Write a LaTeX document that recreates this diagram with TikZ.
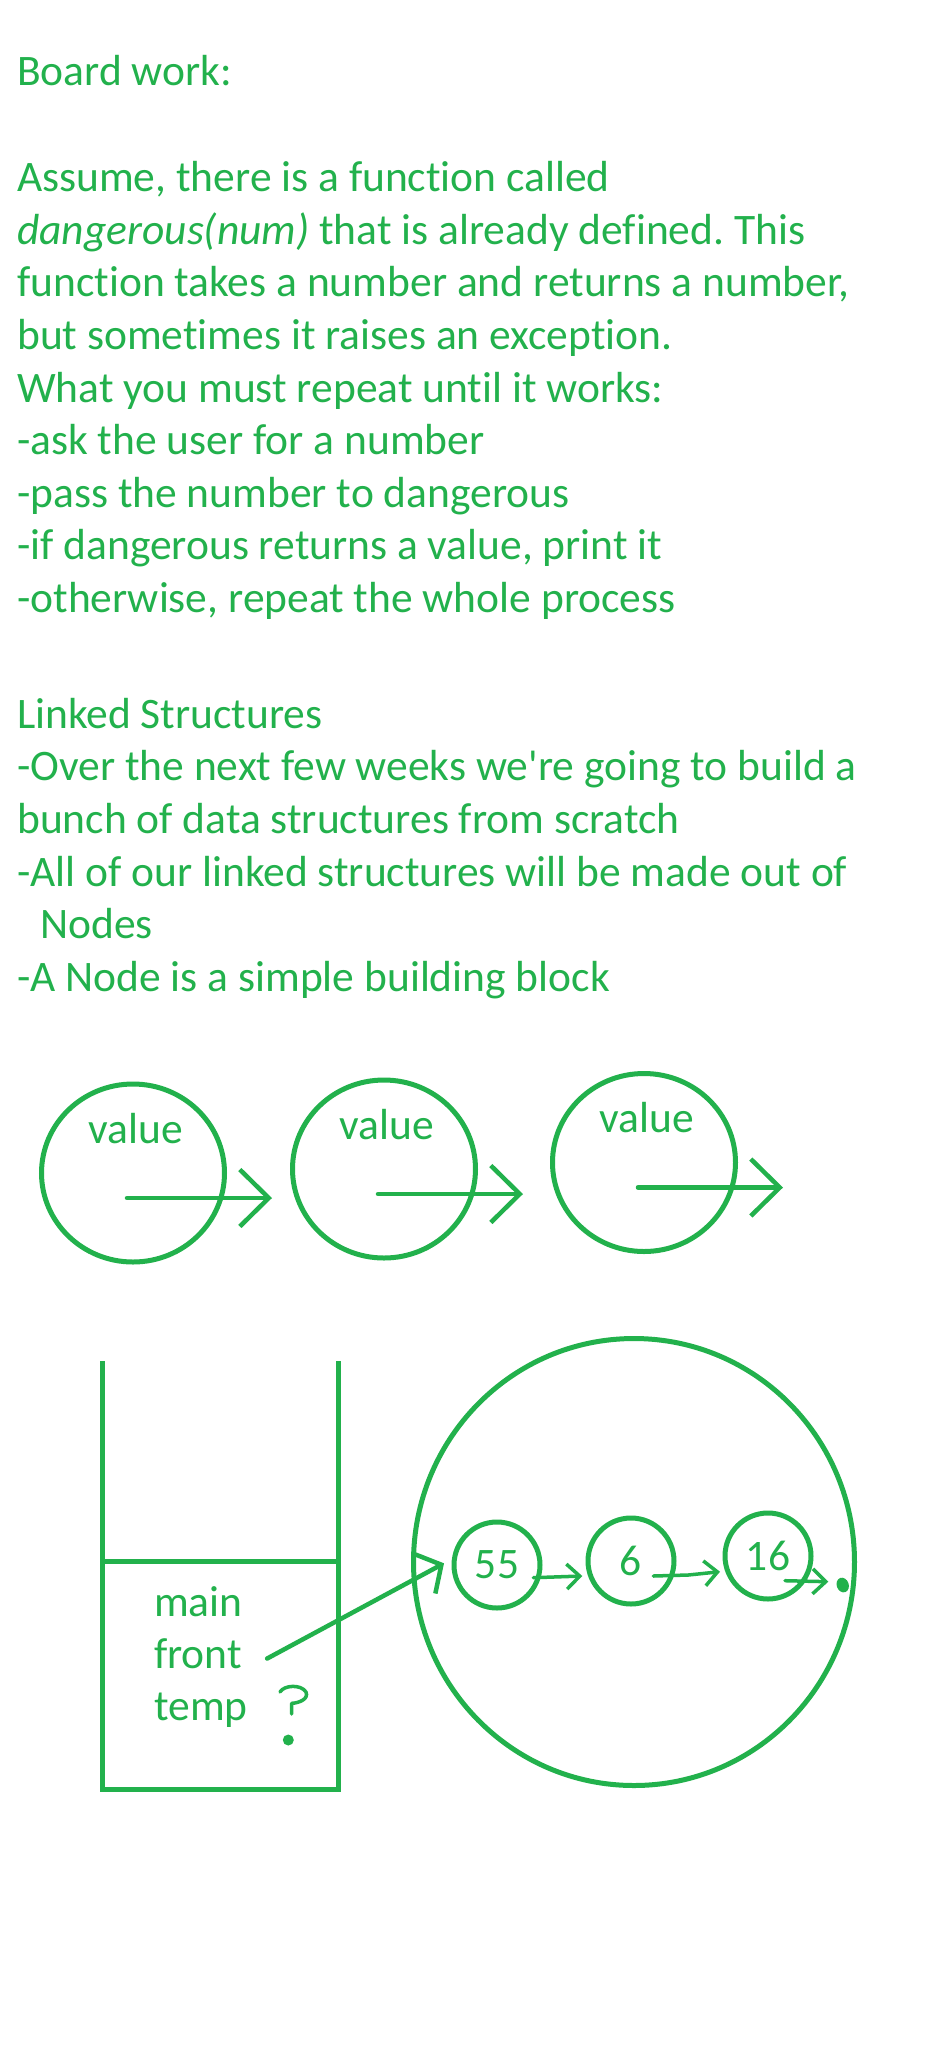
\documentclass[tikz,border=0pt]{standalone}
\usepackage{fontspec}
\setmainfont{Carlito}[Ligatures={NoCommon,NoContextual,NoRequired}]
\usetikzlibrary{arrows.meta,shapes.geometric}
\definecolor{paint}{RGB}{34,177,76}
\frenchspacing

\begin{document}
\begin{tikzpicture}[x=1pt, y=-1pt,
  every node/.style={text=paint, font=\fontsize{43.5}{52.6}\selectfont},
  txt/.style={anchor=base west, inner sep=0pt},
  ink/.style={draw=paint, line width=5pt},
  bubble/.style={ink, ellipse, minimum width=183pt, minimum height=178pt},
  cell/.style={ink, circle, minimum size=86pt, inner sep=0pt},
  bigarrow/.style={draw=paint, line width=4.5pt, line cap=round,
    -{Straight Barb[length=29pt,width=57pt]}},
  smallarrow/.style={draw=paint, line width=3.5pt, line cap=round,
    -{Straight Barb[length=13pt,width=25pt]}}]
  % Page
  \fill[white] (0,0) rectangle (928,2064);

  % Board work text
  \node[txt] (board) at (17,85.7) {Board work:};
  \node[txt] (q1) at (17,191.7) {Assume, there is a function called};
  \node[txt] (q2) at (17,244.3) {\textit{dangerous(num)} that is already defined. This};
  \node[txt] (q3) at (17,296.9) {function takes a number and returns a number,};
  \node[txt] (q4) at (17,349.5) {but sometimes it raises an exception.};
  \node[txt] (q5) at (17,402.1) {What you must repeat until it works:};
  \node[txt] (q6) at (17,454.7) {-ask the user for a number};
  \node[txt] (q7) at (17,507.3) {-pass the number to dangerous};
  \node[txt] (q8) at (17,559.9) {-if dangerous returns a value, print it};
  \node[txt] (q9) at (17,612.5) {-otherwise, repeat the whole process};

  % Linked structures text
  \node[txt] (linked) at (17,728.3) {Linked Structures};
  \node[txt] (s1) at (17,780.7) {-Over the next few weeks we\textquotesingle re going to build a};
  \node[txt] (s2) at (17,833.3) {bunch of data structures from scratch};
  \node[txt] (s3) at (17,886.0) {-All of our linked structures will be made out of};
  \node[txt] (s4) at (40,938.6) {Nodes};
  \node[txt] (s5) at (17,991.2) {-A Node is a simple building block};

  % Node bubbles
  \foreach \i/\x/\y in {1/133/1173, 2/384/1169, 3/644/1162.5} {
    \node[bubble] (v\i) at (\x,\y) {};
    \node[anchor=base, inner sep=0pt] (val\i) at ([shift={(3,-30)}]v\i.center) {value};
    \draw[bigarrow] ([shift={(-6,25)}]v\i.center) -- ([shift={(139,25)}]v\i.center);
  }

  % Stack frame
  \draw[ink] (102.5,1361) -- (102.5,1789) -- (338,1789) -- (338,1361);
  \draw[ink] (102.5,1561) -- (338,1561);
  \node[txt] (main) at (154,1616.7) {main};
  \node[txt] (front) at (154,1668.3) {front};
  \node[txt] (temp) at (154,1720) {temp};
  \draw[paint, line width=3.5pt, line cap=round, line join=round]
    (280,1692) .. controls (284,1685) and (301,1684) .. (306,1692)
    .. controls (309,1699) and (299,1703) .. (291.7,1703.3) -- (291.7,1714);
  \fill[paint] (288.3,1740) circle (5.5);

  % Heap
  \node[ink, ellipse, minimum width=441pt, minimum height=447pt] (heap) at (634,1562) {};
  \node[cell] (n55) at (497,1565) {55};
  \node[cell] (n6) at (631,1561) {6};
  \node[cell] (n16) at (768,1556) {16};
  \coordinate (nil) at (842.7,1585);
  \fill[paint, rotate around={20:(nil)}] (nil) ellipse [x radius=6, y radius=7.5];

  % Links
  \draw[draw=paint, line width=4.5pt, line cap=round,
    -{Straight Barb[length=19pt,width=45pt]}]
    ([shift={(25,5)}]front.east) -- ([shift={(-7.5,-1.7)}]n55.west);
  \draw[smallarrow] ([shift={(36.3,12.7)}]n55.center) -- ([shift={(-48.7,15)}]n6.center);
  \draw[smallarrow] ([shift={(22.3,15)}]n6.center) -- ++(35,-1) -- ([shift={(-48,15.7)}]n16.center);
  \draw[smallarrow] ([shift={(17,24.7)}]n16.center) -- ([shift={(-14.4,-3.3)}]nil);
\end{tikzpicture}
\end{document}
